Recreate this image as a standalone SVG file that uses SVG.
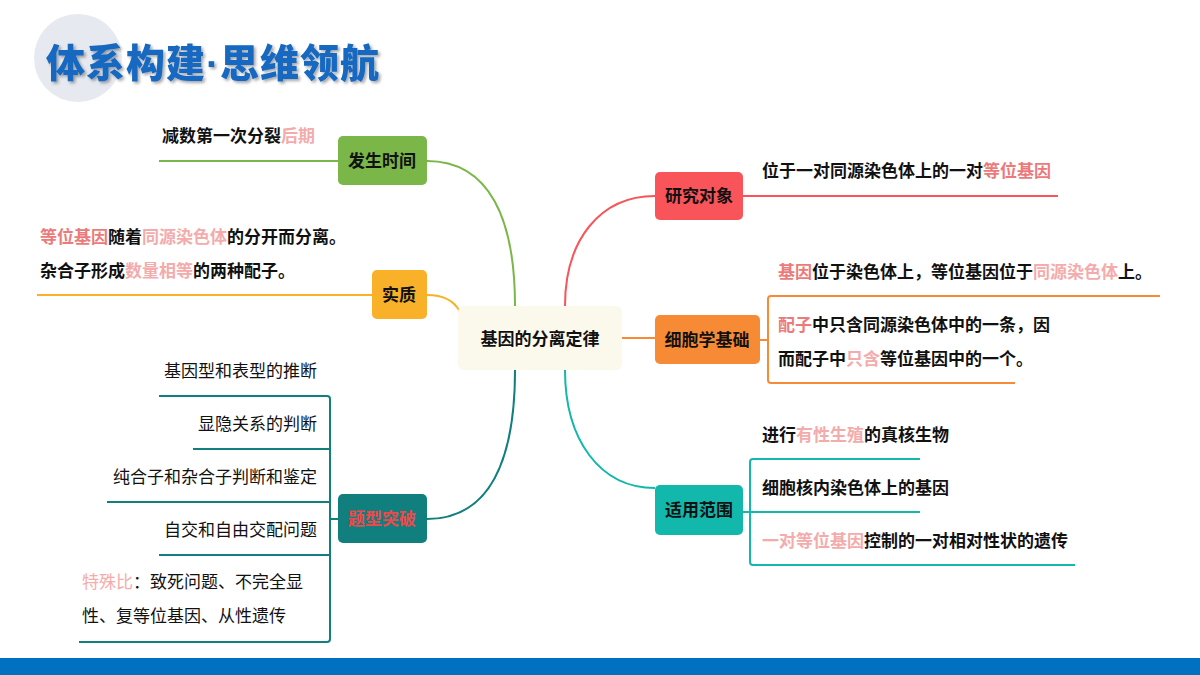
<svg xmlns="http://www.w3.org/2000/svg" width="1200" height="675" viewBox="0 0 1200 675">
<style>
text{font-family:"Noto Sans CJK SC","Noto Sans",sans-serif}
.b{font-weight:bold}
.t{font-size:17px;fill:#111}
.n{font-size:17px;font-weight:bold;fill:#111;text-anchor:middle}
.p{fill:#ec7a7a}
.q{fill:#f4abab}
.c{fill:none;stroke-width:2}
</style>
<defs><filter id="sh" x="-5%" y="-20%" width="110%" height="140%"><feDropShadow dx="2" dy="2" stdDeviation="1.5" flood-color="#000" flood-opacity="0.35"/></filter></defs>
<rect width="1200" height="675" fill="#fff"/>
<circle cx="78" cy="58" r="44" fill="#e6eaf0"/>
<text x="46" y="77" font-size="39" font-weight="900" letter-spacing="1" fill="#1668c0" filter="url(#sh)">体系构建<tspan font-family="Liberation Sans,sans-serif">·</tspan>思维领航</text>
<rect x="0" y="658" width="1200" height="17" fill="#0070c0"/>
<g id="connectors">
<path class="c" stroke="#7ab648" d="M427,161 C490,161 515,220 515,306"/>
<path class="c" stroke="#f9b12a" d="M427,295 C445,295 455,302 460,312"/>
<path class="c" stroke="#107f7e" d="M427,519 C490,519 515,460 515,370"/>
<path class="c" stroke="#f9545a" d="M655,196 C600,196 565,240 565,306"/>
<path class="c" stroke="#f78a35" d="M622,338 H655"/>
<path class="c" stroke="#12b8ab" d="M655,488 C600,488 565,440 565,370"/>
<path class="c" stroke="#7ab648" d="M338,161 H159"/>
<path class="c" stroke="#f9b12a" d="M372,295 H37"/>
<path class="c" stroke="#107f7e" d="M338,519 H330 M159,396 H327 Q330,396 330,399 V639 Q330,642 327,642 H79 M193,449 H330 M107,502 H330 M159,555 H330"/>
<path class="c" stroke="#f9545a" d="M743,196 H1058"/>
<path class="c" stroke="#f78a35" d="M760,340 H768 M1160,296 H771 Q768,296 768,299 V380 Q768,383 771,383 H1015"/>
<path class="c" stroke="#12b8ab" d="M743,512 H750 M920,459 H753 Q750,459 750,462 V562 Q750,565 753,565 H1075 M750,512 H920"/>
</g>
<g id="center"><rect x="458" y="306" width="164" height="64" rx="6" fill="#fbf8ec"/><text class="n" x="540" y="345" font-size="18">基因的分离定律</text></g>
<g id="n1"><rect x="338" y="136" width="89" height="49" rx="5" fill="#7ab648"/><text class="n" x="382" y="167">发生时间</text></g>
<g id="n1t"><text class="t b" x="162" y="142">减数第一次分裂<tspan class="q">后期</tspan></text></g>
<g id="n2"><rect x="372" y="270" width="55" height="49" rx="5" fill="#f9b12a"/><text class="n" x="399" y="301">实质</text></g>
<g id="n2t"><text class="t b" x="40" y="243"><tspan class="p">等位基因</tspan>随着<tspan class="q">同源染色体</tspan>的分开而分离。</text><text class="t b" x="40" y="277">杂合子形成<tspan class="q">数量相等</tspan>的两种配子。</text></g>
<g id="n3"><rect x="338" y="494" width="89" height="49" rx="5" fill="#107f7e"/><text class="n" x="382" y="525" style="fill:#f0484a">题型突破</text></g>
<g id="n3t" text-anchor="end"><text class="t" x="317" y="377">基因型和表型的推断</text><text class="t" x="317" y="430">显隐关系的判断</text><text class="t" x="317" y="483">纯合子和杂合子判断和鉴定</text><text class="t" x="317" y="536">自交和自由交配问题</text></g>
<g id="n3s"><text class="t" x="82" y="588"><tspan class="q">特殊比</tspan>：致死问题、不完全显</text><text class="t" x="82" y="622">性、复等位基因、从性遗传</text></g>
<g id="n4"><rect x="655" y="172" width="88" height="48" rx="5" fill="#f9545a"/><text class="n" x="699" y="202">研究对象</text></g>
<g id="n4t"><text class="t b" x="762" y="177">位于一对同源染色体上的一对<tspan class="p">等位基因</tspan></text></g>
<g id="n5"><rect x="655" y="315" width="105" height="49" rx="5" fill="#f78a35"/><text class="n" x="707" y="346">细胞学基础</text></g>
<g id="n5t"><text class="t b" x="778" y="278"><tspan class="p">基因</tspan>位于染色体上，等位基因位于<tspan class="q">同源染色体</tspan>上。</text><text class="t b" x="778" y="331"><tspan class="p">配子</tspan>中只含同源染色体中的一条，因</text><text class="t b" x="778" y="365">而配子中<tspan class="q">只含</tspan>等位基因中的一个。</text></g>
<g id="n6"><rect x="655" y="485" width="88" height="50" rx="5" fill="#12b8ab"/><text class="n" x="699" y="516">适用范围</text></g>
<g id="n6t"><text class="t b" x="762" y="441">进行<tspan class="q">有性生殖</tspan>的真核生物</text><text class="t b" x="762" y="494">细胞核内染色体上的基因</text><text class="t b" x="762" y="547"><tspan class="q">一对等位基因</tspan>控制的一对相对性状的遗传</text></g>
</svg>
